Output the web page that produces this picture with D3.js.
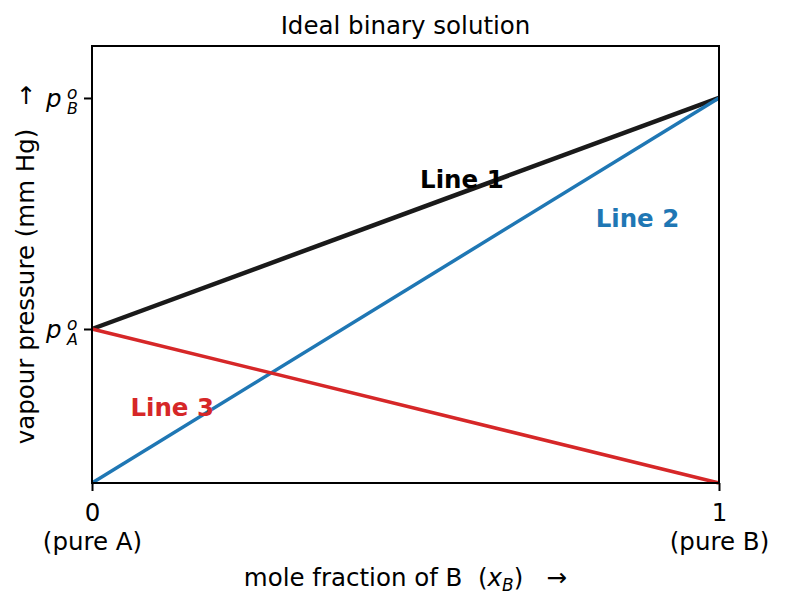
<!DOCTYPE html>
<html>
<head>
<meta charset="utf-8">
<script src="https://d3js.org/d3.v7.min.js"></script>
<style>
  body { margin: 0; background: #fff; }
  svg text { font-family: 'DejaVu Sans', sans-serif; }
</style>
</head>
<body>
<script>
// Data
var xTicks = [0, 1];
var xTickLabels = ["0", "1"];
var xTickSub = ["(pure A)", "(pure B)"];
var pA = 0.4, pB = 1.0;
var yTicks = [pA, pB];
var yTickSubs = ["A", "B"];
var line1 = [[0, pA], [1, pB]];   // total pressure
var line2 = [[0, 0], [1, pB]];    // partial pressure of B
var line3 = [[0, pA], [1, 0]];    // partial pressure of A
var labels = [
  {text: "Line 1", x: 0.59, y: 0.79, color: "#000000"},
  {text: "Line 2", x: 0.87, y: 0.688, color: "#1f77b4"},
  {text: "Line 3", x: 0.128, y: 0.197, color: "#d62728"}
];

var W = 786, H = 606;
var margin = {top: 46, right: 67, bottom: 123, left: 92};
var width = W - margin.left - margin.right,
    height = H - margin.top - margin.bottom;
var FS = 24.5;

var svg = d3.select("body").append("svg")
    .attr("width", W).attr("height", H);
var g = svg.append("g")
    .attr("transform", "translate(" + margin.left + "," + margin.top + ")");

var x = d3.scaleLinear().domain([0, 1]).range([0, width]);
var y = d3.scaleLinear().domain([0, 1.135]).range([height, 0]);

var line = d3.line().x(function(d) { return x(d[0]); }).y(function(d) { return y(d[1]); });

g.append("path").datum(line1).attr("d", line)
    .attr("fill", "none").attr("stroke", "#1a1a1a").attr("stroke-width", 4.5);
g.append("path").datum(line2).attr("d", line)
    .attr("fill", "none").attr("stroke", "#1f77b4").attr("stroke-width", 3.5);
g.append("path").datum(line3).attr("d", line)
    .attr("fill", "none").attr("stroke", "#d62728").attr("stroke-width", 3.5);

g.selectAll(".lbl").data(labels).enter().append("text")
    .attr("class", "lbl")
    .attr("x", function(d) { return x(d.x); })
    .attr("y", function(d) { return y(d.y); })
    .attr("text-anchor", "middle")
    .attr("dy", "0.36em")
    .style("font-size", FS + "px")
    .style("font-weight", "bold")
    .style("fill", function(d) { return d.color; })
    .text(function(d) { return d.text; });

// frame
g.append("rect").attr("width", width).attr("height", height)
    .attr("fill", "none").attr("stroke", "#000").attr("stroke-width", 2);

// x axis
var xAxis = g.append("g").attr("transform", "translate(0," + height + ")")
    .call(d3.axisBottom(x).tickValues(xTicks).tickSize(8).tickFormat(""));
xAxis.select(".domain").remove();
xAxis.selectAll("line").attr("stroke-width", 2);
xAxis.selectAll(".tick").each(function(d, i) {
  var t = d3.select(this).append("text")
      .attr("fill", "#000").style("font-size", FS + "px").attr("text-anchor", "middle");
  t.append("tspan").attr("x", 0).attr("y", 38).text(xTickLabels[i]);
  t.append("tspan").attr("x", 0).attr("y", 67).text(xTickSub[i]);
});

// y axis
var yAxis = g.append("g")
    .call(d3.axisLeft(y).tickValues(yTicks).tickSize(8).tickFormat(""));
yAxis.select(".domain").remove();
yAxis.selectAll("line").attr("stroke-width", 2);
yAxis.selectAll(".tick").each(function(d, i) {
  var t = d3.select(this).append("text")
      .attr("text-anchor", "start")
      .attr("fill", "#000").style("font-size", FS + "px").style("font-style", "italic");
  t.append("tspan").attr("x", -46).attr("y", 8.5).text("p");
  t.append("tspan").attr("x", -25).attr("y", 1).style("font-size", "17px").text("o");
  t.append("tspan").attr("x", -25).attr("y", 16).style("font-size", "16px").text(yTickSubs[i]);
});

// title
svg.append("text").attr("x", margin.left + width / 2).attr("y", 34)
    .attr("text-anchor", "middle").style("font-size", FS + "px")
    .text("Ideal binary solution");

// x label
var xl = svg.append("text").attr("x", margin.left + width / 2).attr("y", 586)
    .attr("text-anchor", "middle").style("font-size", FS + "px");
xl.append("tspan").text("mole fraction of B\u00a0\u00a0(");
xl.append("tspan").style("font-style", "italic").text("x");
xl.append("tspan").attr("dy", 5).style("font-size", "17px").style("font-style", "italic").text("B");
xl.append("tspan").attr("dy", -5).text(")\u00a0\u00a0\u00a0\u2192");

// y label
svg.append("text")
    .attr("transform", "translate(34," + (margin.top + height / 2) + ") rotate(-90)")
    .attr("text-anchor", "middle").style("font-size", FS + "px")
    .text("vapour pressure (mm Hg)\u00a0\u00a0\u00a0\u2192");
</script>
</body>
</html>
